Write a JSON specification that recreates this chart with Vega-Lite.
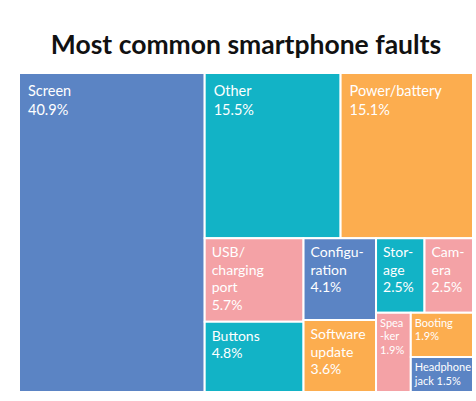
{
  "$schema": "https://vega.github.io/schema/vega-lite/v6.json",
  "width": 454,
  "height": 319,
  "autosize": {"type": "none"},
  "padding": {"left": 19, "top": 73, "right": 3, "bottom": 9},
  "background": "white",
  "title": {"text": "Most common smartphone faults", "font": "Lato", "fontSize": 26.5, "fontWeight": "bold", "color": "#111111", "anchor": "middle", "offset": -8, "baseline": "alphabetic"},
  "config": {"view": {"stroke": null}},
  "data": {"values": [
    {"o": 1, "name": "Screen", "label": "Screen|40.9%", "value": 40.9, "g1": "Screen", "g2": "Screen", "g3": "Screen", "g4": "Screen", "g5": "Screen", "g6": "Screen"},
    {"o": 2, "name": "Other", "label": "Other|15.5%", "value": 15.5, "g1": "Rest", "g2": "Top", "g3": "Other", "g4": "Other", "g5": "Other", "g6": "Other"},
    {"o": 3, "name": "Power/battery", "label": "Power/battery|15.1%", "value": 15.1, "g1": "Rest", "g2": "Top", "g3": "Power/battery", "g4": "Power/battery", "g5": "Power/battery", "g6": "Power/battery"},
    {"o": 4, "name": "USB/charging port", "label": "USB/|charging|port|5.7%", "value": 5.7, "g1": "Rest", "g2": "Bottom", "g3": "C1", "g4": "USB/charging port", "g5": "USB/charging port", "g6": "USB/charging port"},
    {"o": 5, "name": "Buttons", "label": "Buttons|4.8%", "value": 4.8, "g1": "Rest", "g2": "Bottom", "g3": "C1", "g4": "Buttons", "g5": "Buttons", "g6": "Buttons"},
    {"o": 6, "name": "Configuration", "label": "Configu-|ration|4.1%", "value": 4.1, "g1": "Rest", "g2": "Bottom", "g3": "C2", "g4": "Configuration", "g5": "Configuration", "g6": "Configuration"},
    {"o": 7, "name": "Software update", "label": "Software|update|3.6%", "value": 3.6, "g1": "Rest", "g2": "Bottom", "g3": "C2", "g4": "Software update", "g5": "Software update", "g6": "Software update"},
    {"o": 8, "name": "Storage", "label": "Stor-|age|2.5%", "value": 2.5, "g1": "Rest", "g2": "Bottom", "g3": "C3", "g4": "D1", "g5": "Storage", "g6": "Storage"},
    {"o": 9, "name": "Camera", "label": "Cam-|era|2.5%", "value": 2.5, "g1": "Rest", "g2": "Bottom", "g3": "C3", "g4": "D1", "g5": "Camera", "g6": "Camera"},
    {"o": 10, "name": "Speaker", "label": "Spea|-ker|1.9%", "value": 1.9, "g1": "Rest", "g2": "Bottom", "g3": "C3", "g4": "D2", "g5": "Speaker", "g6": "Speaker"},
    {"o": 11, "name": "Booting", "label": "Booting|1.9%", "value": 1.9, "g1": "Rest", "g2": "Bottom", "g3": "C3", "g4": "D2", "g5": "E", "g6": "Booting"},
    {"o": 12, "name": "Headphone jack", "label": "Headphone|jack 1.5%", "value": 1.5, "g1": "Rest", "g2": "Bottom", "g3": "C3", "g4": "D2", "g5": "E", "g6": "Headphone jack"}
  ]},
  "transform": [
    {"window": [{"op": "sum", "field": "value", "as": "c1"}], "sort": [{"field": "o"}], "frame": [null, 0]},
    {"joinaggregate": [{"op": "max", "field": "c1", "as": "e1"}, {"op": "sum", "field": "value", "as": "n1"}], "groupby": ["g1"]},
    {"joinaggregate": [{"op": "sum", "field": "value", "as": "p1"}]},
    {"calculate": "(datum.e1-datum.n1)/datum.p1", "as": "xa1"},
    {"calculate": "datum.e1/datum.p1", "as": "xb1"},

    {"window": [{"op": "sum", "field": "value", "as": "c2"}], "sort": [{"field": "o"}], "groupby": ["g1"], "frame": [null, 0]},
    {"joinaggregate": [{"op": "max", "field": "c2", "as": "e2"}, {"op": "sum", "field": "value", "as": "n2"}], "groupby": ["g1", "g2"]},
    {"joinaggregate": [{"op": "sum", "field": "value", "as": "p2"}], "groupby": ["g1"]},
    {"calculate": "(datum.e2-datum.n2)/datum.p2", "as": "ya2"},
    {"calculate": "datum.e2/datum.p2", "as": "yb2"},

    {"window": [{"op": "sum", "field": "value", "as": "c3"}], "sort": [{"field": "o"}], "groupby": ["g1", "g2"], "frame": [null, 0]},
    {"joinaggregate": [{"op": "max", "field": "c3", "as": "e3"}, {"op": "sum", "field": "value", "as": "n3"}], "groupby": ["g1", "g2", "g3"]},
    {"joinaggregate": [{"op": "sum", "field": "value", "as": "p3"}], "groupby": ["g1", "g2"]},
    {"calculate": "datum.xa1+(datum.xb1-datum.xa1)*(datum.e3-datum.n3)/datum.p3", "as": "xa3"},
    {"calculate": "datum.xa1+(datum.xb1-datum.xa1)*datum.e3/datum.p3", "as": "xb3"},

    {"window": [{"op": "sum", "field": "value", "as": "c4"}], "sort": [{"field": "o"}], "groupby": ["g1", "g2", "g3"], "frame": [null, 0]},
    {"joinaggregate": [{"op": "max", "field": "c4", "as": "e4"}, {"op": "sum", "field": "value", "as": "n4"}], "groupby": ["g1", "g2", "g3", "g4"]},
    {"joinaggregate": [{"op": "sum", "field": "value", "as": "p4"}], "groupby": ["g1", "g2", "g3"]},
    {"calculate": "datum.ya2+(datum.yb2-datum.ya2)*(datum.e4-datum.n4)/datum.p4", "as": "ya4"},
    {"calculate": "datum.ya2+(datum.yb2-datum.ya2)*datum.e4/datum.p4", "as": "yb4"},

    {"window": [{"op": "sum", "field": "value", "as": "c5"}], "sort": [{"field": "o"}], "groupby": ["g1", "g2", "g3", "g4"], "frame": [null, 0]},
    {"joinaggregate": [{"op": "max", "field": "c5", "as": "e5"}, {"op": "sum", "field": "value", "as": "n5"}], "groupby": ["g1", "g2", "g3", "g4", "g5"]},
    {"joinaggregate": [{"op": "sum", "field": "value", "as": "p5"}], "groupby": ["g1", "g2", "g3", "g4"]},
    {"calculate": "datum.xa3+(datum.xb3-datum.xa3)*(datum.e5-datum.n5)/datum.p5", "as": "xa5"},
    {"calculate": "datum.xa3+(datum.xb3-datum.xa3)*datum.e5/datum.p5", "as": "xb5"},

    {"window": [{"op": "sum", "field": "value", "as": "c6"}], "sort": [{"field": "o"}], "groupby": ["g1", "g2", "g3", "g4", "g5"], "frame": [null, 0]},
    {"joinaggregate": [{"op": "max", "field": "c6", "as": "e6"}, {"op": "sum", "field": "value", "as": "n6"}], "groupby": ["g1", "g2", "g3", "g4", "g5", "g6"]},
    {"joinaggregate": [{"op": "sum", "field": "value", "as": "p6"}], "groupby": ["g1", "g2", "g3", "g4", "g5"]},
    {"calculate": "datum.ya4+(datum.yb4-datum.ya4)*(datum.e6-datum.n6)/datum.p6", "as": "ya6"},
    {"calculate": "datum.ya4+(datum.yb4-datum.ya4)*datum.e6/datum.p6", "as": "yb6"}
  ],
  "encoding": {
    "x": {"field": "xa5", "type": "quantitative", "scale": {"domain": [0, 1], "nice": false, "zero": false}, "axis": null},
    "y": {"field": "ya6", "type": "quantitative", "scale": {"domain": [0, 1], "nice": false, "zero": false, "reverse": true}, "axis": null}
  },
  "layer": [
    {
      "mark": {"type": "rect", "stroke": "white", "strokeWidth": 2},
      "encoding": {
        "x2": {"field": "xb5"},
        "y2": {"field": "yb6"},
        "color": {"field": "name", "type": "nominal", "legend": null, "scale": {
          "domain": ["Screen", "Other", "Power/battery", "USB/charging port", "Buttons", "Configuration", "Software update", "Storage", "Camera", "Speaker", "Booting", "Headphone jack"],
          "range": ["#5b84c4", "#12b3c6", "#fcad4f", "#f4a2a6", "#12b3c6", "#5b84c4", "#fcad4f", "#12b3c6", "#f4a2a6", "#f4a2a6", "#fcad4f", "#5b84c4"]}},
        "tooltip": [{"field": "name", "type": "nominal"}, {"field": "value", "type": "quantitative"}]
      }
    },
    {
      "transform": [{"filter": "datum.value >= 10"}],
      "mark": {"type": "text", "align": "left", "baseline": "alphabetic", "dx": 9, "dy": 23, "font": "Lato", "fontSize": 14.5, "lineHeight": 19, "lineBreak": "|", "color": "white"},
      "encoding": {"text": {"field": "label", "type": "nominal"}}
    },
    {
      "transform": [{"filter": "datum.value >= 2 && datum.value < 10"}],
      "mark": {"type": "text", "align": "left", "baseline": "alphabetic", "dx": 7, "dy": 19, "font": "Lato", "fontSize": 14, "lineHeight": 17.5, "lineBreak": "|", "color": "white"},
      "encoding": {"text": {"field": "label", "type": "nominal"}}
    },
    {
      "transform": [{"filter": "datum.value < 2"}],
      "mark": {"type": "text", "align": "left", "baseline": "alphabetic", "dx": 4, "dy": 14, "font": "Lato", "fontSize": 11, "lineHeight": 13.5, "lineBreak": "|", "color": "white"},
      "encoding": {"text": {"field": "label", "type": "nominal"}}
    }
  ]
}
